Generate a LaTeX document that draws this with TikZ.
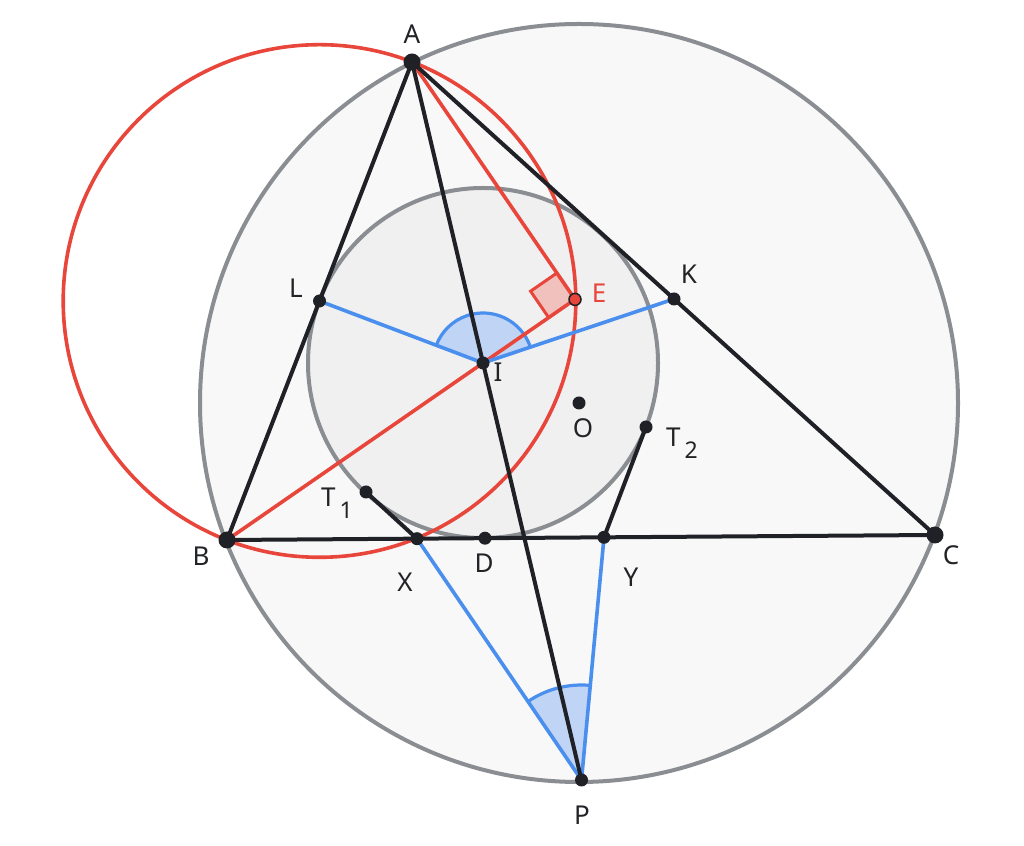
\documentclass[tikz,border=0pt]{standalone}
\usepackage{fontspec}
\setmainfont{Noto Sans}
\usetikzlibrary{calc, angles}
\definecolor{ptblack}{HTML}{1F2126}
\definecolor{circgray}{HTML}{8A8D91}
\definecolor{outerfill}{HTML}{F8F8F8}
\definecolor{innerfill}{HTML}{F0F0F0}
\definecolor{geored}{HTML}{E8453B}
\definecolor{redfill}{HTML}{F1C1BD}
\definecolor{geoblue}{HTML}{4A8FEE}
\definecolor{bluefill}{HTML}{C0D5F5}
\definecolor{lblgray}{HTML}{222326}

\begin{document}
\begin{tikzpicture}[x=1pt, y=1pt,
  blackline/.style={draw=ptblack, line width=4pt},
  grayline/.style={draw=circgray, line width=4pt},
  redline/.style={draw=geored, line width=3.6pt},
  blueline/.style={draw=geoblue, line width=3.6pt},
  dot/.style={circle, fill=ptblack, inner sep=0pt, minimum size=13pt},
  bigdot/.style={dot, minimum size=17pt},
  lbl/.style={inner sep=0pt, text=lblgray, font=\fontsize{26}{30}\selectfont}]
\useasboundingbox (0, 0) rectangle (1024, 845);

% points
\coordinate (A) at (412, 783);
\coordinate (B) at (227, 305);
\coordinate (C) at (935, 310);
\coordinate (P) at (581.5, 65);
\coordinate (I) at (483, 482);
\coordinate (O) at (579, 442);
\coordinate (E) at (575, 545.6);
\coordinate (K) at (674, 546);
\coordinate (L) at (319.5, 544);
\coordinate (D) at (485, 306.8);
\coordinate (X) at (417, 306.3);
\coordinate (Y) at (604, 307.7);
\coordinate (T1) at (366, 353);
\coordinate (T2) at (646, 418);

% circles
\draw[grayline, fill=outerfill] (O) circle[radius=379];
\draw[grayline, fill=innerfill] (I) circle[radius=175];
\draw[redline] (L) circle[radius=256.3];

% right angle at E
\coordinate (ea) at ($(E)!32pt!(A)$);
\coordinate (eb) at ($(E)!32pt!(B)$);
\coordinate (eab) at ($(ea)+(eb)-(E)$);
\fill[redfill] (E) -- (ea) -- (eab) -- (eb) -- cycle;
\draw[redline, line width=3pt] (ea) -- (eab) -- (eb);

% angles
\pic[draw=geoblue, line width=3.2pt, fill=bluefill, angle radius=50pt] {angle=K--I--L};
\pic[draw=geoblue, line width=3.2pt, fill=bluefill, angle radius=95pt] {angle=Y--P--X};

% red segments
\draw[redline] (A) -- (E);
\draw[redline] (B) -- (E);

% blue segments
\draw[blueline] (I) -- (L);
\draw[blueline] (I) -- (K);
\draw[blueline] (X) -- (P);
\draw[blueline] (Y) -- (P);

% black segments
\draw[blackline, line join=round] (A) -- (B) -- (C) -- cycle;
\draw[blackline] (A) -- (P);
\draw[blackline] (T1) -- (X);
\draw[blackline] (T2) -- (Y);

% dots
\node[bigdot] (dA) at (A) {};
\node[bigdot] (dB) at (B) {};
\node[bigdot] (dC) at (C) {};
\node[dot] (dP) at (P) {};
\node[dot] (dI) at (I) {};
\node[dot] (dO) at (O) {};
\node[dot] (dK) at (K) {};
\node[dot] (dL) at (L) {};
\node[dot] (dD) at (D) {};
\node[dot] (dX) at (X) {};
\node[dot] (dY) at (Y) {};
\node[dot] (dT1) at (T1) {};
\node[dot] (dT2) at (T2) {};
\node[dot, fill=geored, draw=ptblack, line width=1.5pt, minimum size=12pt] (dE) at (E) {};

% labels
\node[lbl] (lA) at (412, 811) {A};
\node[lbl] (lB) at (201, 289) {B};
\node[lbl] (lC) at (951, 290) {C};
\node[lbl] (lL) at (296, 557) {L};
\node[lbl] (lK) at (689, 571) {K};
\node[lbl, text=geored] (lE) at (599, 552) {E};
\node[lbl] (lI) at (498, 473) {I};
\node[lbl] (lO) at (583, 417) {O};
\node[lbl] (lD) at (484, 282) {D};
\node[lbl] (lX) at (405, 263) {X};
\node[lbl] (lY) at (631, 268) {Y};
\node[lbl] (lP) at (582, 30) {P};
\node[lbl, anchor=base] (lT1) at (337, 338) {T\kern4pt\raisebox{-12pt}{\fontsize{23}{26}\selectfont 1}};
\node[lbl, anchor=base] (lT2) at (682, 398) {T\kern4pt\raisebox{-12pt}{\fontsize{23}{26}\selectfont 2}};
\end{tikzpicture}
\end{document}
